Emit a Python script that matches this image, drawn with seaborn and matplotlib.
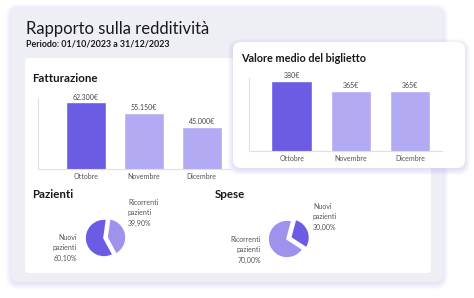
import matplotlib.pyplot as plt
from matplotlib.patches import FancyBboxPatch
import seaborn as sns
import pandas as pd

# dati
mesi = ["Ottobre", "Novembre", "Dicembre"]
fatturazione = [62300, 55150, 45000]
valore_medio = [380, 365, 365]
pazienti_labels = ["Ricorrenti\npazienti", "Nuovi\npazienti"]
pazienti_pct = [39.90, 60.10]
spese_labels = ["Nuovi\npazienti", "Ricorrenti\npazienti"]
spese_pct = [30.00, 70.00]

DARK = "#6c5ce4"
LIGHT = "#b2abf3"
PIE_LIGHT = "#9d93ec"
GREY_TXT = "#555555"

W, H = 474, 298
sns.set_theme(style="white")
plt.rcParams["font.family"] = ["Lato", "DejaVu Sans"]

fig = plt.figure(figsize=(W / 100, H / 100), dpi=100)
fig.patch.set_facecolor("white")

bg = fig.add_axes([0, 0, 1, 1])
bg.set_xlim(0, W)
bg.set_ylim(H, 0)
bg.axis("off")


def card(x0, y0, x1, y1, color, z, pad=6, shadow=None):
    if shadow:
        for i in range(5):
            bg.add_patch(FancyBboxPatch(
                (x0 - i * 1.2, y0 - i * 1.2 + 2), x1 - x0 + i * 2.4, y1 - y0 + i * 2.4,
                boxstyle=f"round,pad=0,rounding_size={pad + i}",
                fc=shadow, ec="none", alpha=0.07, zorder=z - 0.5))
    bg.add_patch(FancyBboxPatch(
        (x0, y0), x1 - x0, y1 - y0, boxstyle=f"round,pad=0,rounding_size={pad}",
        fc=color, ec="none", zorder=z))


def px_axes(x0, y0, x1, y1):
    return fig.add_axes([x0 / W, 1 - y1 / H, (x1 - x0) / W, (y1 - y0) / H])


# pannelli
card(11, 7, 443, 282, "#eeeef5", 1, pad=8, shadow="#b9b2f0")
card(25, 58, 431, 273, "white", 2, pad=4)
card(233, 42, 465, 168, "white", 4, pad=8, shadow="#a9a2e8")

titolo = dict(color="#1a1a1a", va="center", zorder=5)
bg.text(26, 29, "Rapporto sulla redditività", fontsize=12, **titolo)
bg.text(26, 44, "Periodo: 01/10/2023 a 31/12/2023", fontsize=6.4,
        fontweight="bold", **titolo)
bg.text(32, 78, "Fatturazione", fontsize=8.3, fontweight="bold", **titolo)
bg.text(241, 59, "Valore medio del biglietto", fontsize=7.8, fontweight="bold", **titolo)
bg.text(32, 195, "Pazienti", fontsize=8.3, fontweight="bold", **titolo)
bg.text(215, 195, "Spese", fontsize=8.3, fontweight="bold", **titolo)


def barre(ax, valori, fmt, ymin, ymax, xlim, width):
    df = pd.DataFrame({"mese": mesi, "valore": valori})
    sns.barplot(data=df, x="mese", y="valore", hue="mese",
                palette=[DARK, LIGHT, LIGHT], legend=False, width=width,
                saturation=1, ax=ax)
    ax.set_ylim(ymin, ymax)
    ax.set_xlim(*xlim)
    ax.set_facecolor("none")
    ax.set_xlabel("")
    ax.set_ylabel("")
    ax.set_yticks([])
    ax.tick_params(axis="x", labelsize=5, colors=GREY_TXT, length=0, pad=3)
    for s in ["top", "right"]:
        ax.spines[s].set_visible(False)
    for s in ["left", "bottom"]:
        ax.spines[s].set_color("#e0e0e0")
        ax.spines[s].set_linewidth(0.8)
    for i, v in enumerate(valori):
        ax.text(i, v, fmt(v) + "\n", ha="center", va="center", fontsize=5,
                color="#444444", clip_on=False, linespacing=1.6)


ax1 = px_axes(38, 98, 230, 169)
barre(ax1, fatturazione, lambda v: f"{v:,}".replace(",", ".") + "€",
      15000, 65500, (-0.83, 2.49), 0.69)

ax2 = px_axes(249, 78, 442, 151)
ax2.set_zorder(6)
barre(ax2, valore_medio, lambda v: f"{v}€", 275, 384, (-0.72, 2.54), 0.68)


def torta(cx, cy, r, valori, colori, start, esplodi):
    ax = px_axes(cx - 1.4 * r, cy - 1.4 * r, cx + 1.4 * r, cy + 1.4 * r)
    ax.pie(valori, colors=colori, startangle=start, counterclock=False,
           explode=esplodi, wedgeprops=dict(linewidth=1.2, edgecolor="white"))
    ax.set_xlim(-1.4, 1.4)
    ax.set_ylim(-1.4, 1.4)
    return ax


torta(104, 238, 19, pazienti_pct, [PIE_LIGHT, DARK], 82, [0.16, 0])
torta(287, 239, 19, spese_pct, [DARK, PIE_LIGHT], 75, [0.2, 0])


def pct(v):
    return f"{v:.2f}%".replace(".", ",")


etich = dict(fontsize=5, color=GREY_TXT, linespacing=1.5, zorder=5, va="center")
bg.text(128, 213, f"{pazienti_labels[0]}\n{pct(pazienti_pct[0])}", ha="left", **etich)
bg.text(77, 248, f"{pazienti_labels[1]}\n{pct(pazienti_pct[1])}", ha="right", **etich)
bg.text(313, 217, f"{spese_labels[0]}\n{pct(spese_pct[0])}", ha="left", **etich)
bg.text(261, 250, f"{spese_labels[1]}\n{pct(spese_pct[1])}", ha="right", **etich)

fig.savefig("out.png", dpi=100)
plt.close(fig)
